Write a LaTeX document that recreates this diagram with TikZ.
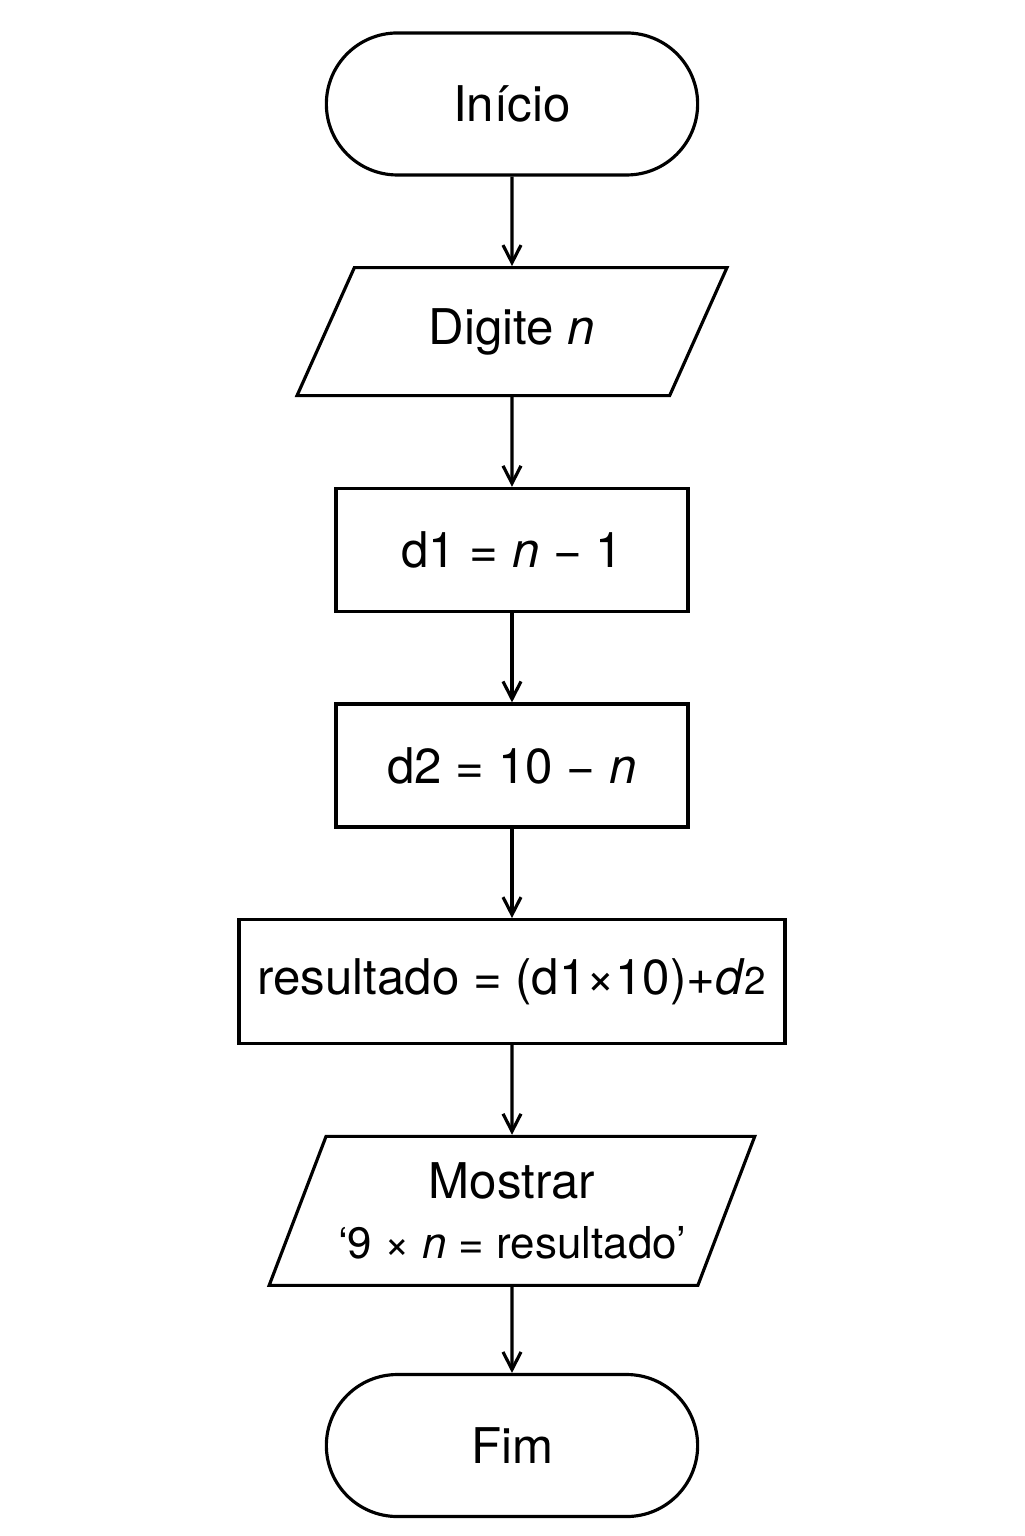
\documentclass[tikz,border=0pt]{standalone}
\usepackage{fontspec}
\setmainfont{TeX Gyre Heros}
\usetikzlibrary{shapes.geometric, shapes.misc, arrows.meta, positioning}
\tikzstyle{startstop} = [rounded rectangle, minimum width=7.66cm, minimum height=2.84cm, text centered, draw=black, line width=1.8pt]
\tikzstyle{io} = [trapezium, trapezium left angle=61, trapezium right angle=119, trapezium stretches=true, minimum width=8.6cm, minimum height=2.56cm, text centered, draw=black, line width=1.8pt]
\tikzstyle{process} = [rectangle, minimum width=7.04cm, minimum height=2.46cm, text centered, draw=black, line width=1.8pt]
\tikzstyle{arrow} = [line width=1.8pt,-{Straight Barb[length=3.5mm,width=3.6mm]}]

\begin{document}
\begin{tikzpicture}[node distance=1.79cm, font=\fontsize{28}{34}\selectfont]
\useasboundingbox (-10.24,0) rectangle (10.24,30.72);
\node (start) [startstop] at (0,28.64) {Início};
\node (input) [io, below=of start] {Digite \textit{n}};
\node (dfirst) [process, below=of input] {d1 = \textit{n} − 1};
\node (dsecond) [process, below=of dfirst] {d2 = 10 − \textit{n}};
\node (result) [process, below=of dsecond, minimum width=10.92cm, minimum height=2.48cm] {resultado = (d1×10)+\textit{d}{\fontsize{22}{26}\selectfont 2}};
\node (output) [io, below=of result, minimum width=9.72cm, minimum height=2.98cm, trapezium left angle=63, trapezium right angle=117, align=center] {Mostrar\\{\fontsize{25}{30}\selectfont ‘9 × \textit{n} = resultado’}};
\node (stop) [startstop, below=1.72cm of output] {Fim};

\draw [arrow] (start) -- (input);
\draw [arrow] (input) -- (dfirst);
\draw [arrow] (dfirst) -- (dsecond);
\draw [arrow] (dsecond) -- (result);
\draw [arrow] (result) -- (output);
\draw [arrow] (output) -- (stop);
\end{tikzpicture}
\end{document}
